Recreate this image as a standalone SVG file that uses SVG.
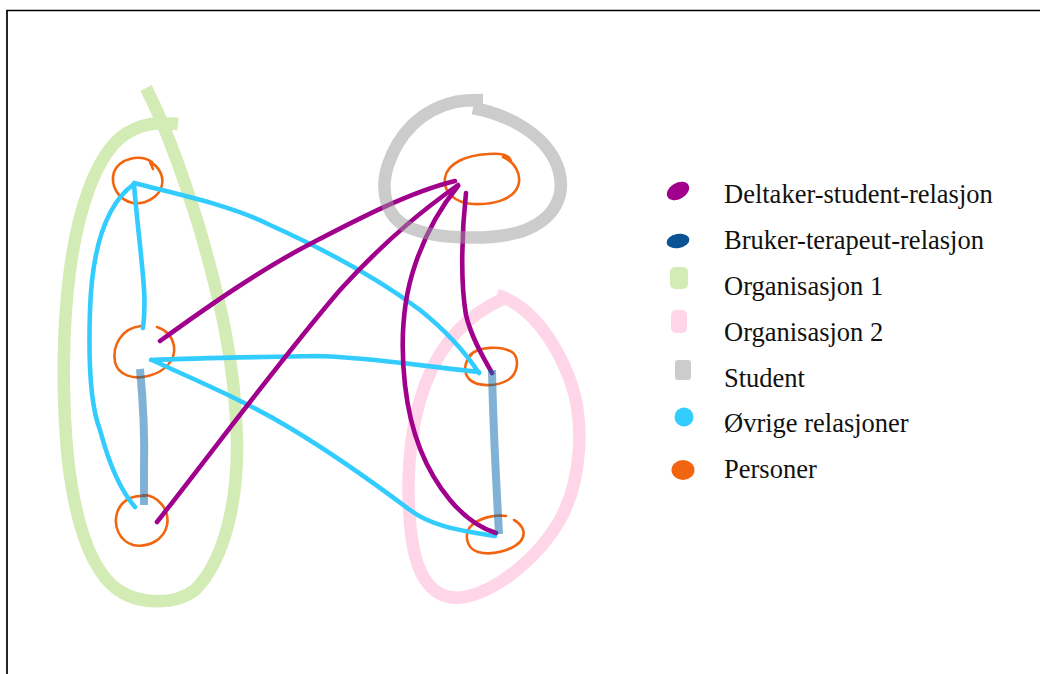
<svg xmlns="http://www.w3.org/2000/svg" width="1040" height="674" viewBox="0 0 1040 674">
<style>
.grp{fill:none;stroke-width:12.5;stroke-linecap:butt;stroke-linejoin:round}
.person{fill:none;stroke:#f26510;stroke-width:2.6;stroke-linecap:round}
.cyan{fill:none;stroke:#33ccff;stroke-width:4.6;stroke-linecap:round;stroke-linejoin:round}
.purple{fill:none;stroke:#a0008c;stroke-width:4.6;stroke-linecap:round}
.bt{fill:none;stroke:#0066aa;stroke-opacity:0.5;stroke-width:8;stroke-linecap:butt}
.lbl{font-family:"Liberation Serif","Times New Roman",serif;font-size:26.5px;fill:#111}
</style>
<rect width="1040" height="674" fill="#fff"/>
<path d="M7,674 V10.5 H1040" fill="none" stroke="#000" stroke-width="1.7"/>

<g id="org1"><path class="grp" stroke="#d3ebb4" d="M146,88 C160,115 180,165 200,230 C220,300 235,360 237,440 C238,500 225,560 195,590 C175,605 140,605 118,590 C90,570 75,520 68,460 C62,400 62,330 70,270 C78,210 95,160 120,138 C140,122 160,122 178,124"/></g>
<g id="org2"><path class="grp" stroke="#ffd6e8" d="M497,295 C530,305 555,340 570,380 C585,420 582,480 560,520 C540,555 500,590 465,597 C435,602 418,580 412,540 C405,490 408,430 425,385 C440,345 465,315 505,298"/></g>

<g id="p1"><path class="person" d="M152,162 C140,154 120,158 114,172 C110,185 118,200 133,203 C146,205 160,196 162,185 C164,175 158,166 150,162 L153,169"/></g>
<g id="p2"><path class="person" d="M157,327 C166,330 172,335 174,346 C176,360 165,372 148,376 C133,380 118,375 115,362 C112,345 122,328 141,326"/></g>
<g id="p3"><path class="person" d="M143,495 C158,495 170,510 167,525 C164,540 148,548 133,545 C120,541 113,527 117,513 C121,500 133,495 145,496"/></g>
<g id="p4"><path class="person" d="M503,157 C515,162 522,175 518,186 C513,200 492,205 473,204 C455,203 443,192 445,178 C447,163 467,155 488,154 C500,153 508,155 510,159 L505,158"/></g>
<g id="p5"><path class="person" d="M470,355 C478,347 500,345 512,352 C520,358 518,374 508,380 C496,387 477,387 469,379 C463,372 464,362 472,354"/></g>
<g id="p6"><path class="person" d="M506,516 C495,514 480,518 472,525 C464,532 465,548 478,552 C492,556 512,550 520,542 C527,534 523,525 514,520"/></g>

<g id="connectors">
<path class="cyan" d="M134,184 C105,205 92,250 90,310 C88,370 92,410 100,430 C108,460 120,490 135,507"/>
<path class="cyan" d="M134,184 C136,210 139,235 141,255 C144,285 146,305 143,328"/>
<path class="cyan" d="M134,183 C180,195 230,205 270,225 C330,252 380,280 420,310 C445,330 465,352 479,373"/>
<path class="cyan" d="M151,360 C200,358 260,357 315,356 C370,357 420,366 479,372"/>
<path class="cyan" d="M152,360 C190,378 240,398 290,428 C330,452 370,480 410,510 C430,525 455,530 495,536"/>
<path class="purple" d="M160,341 C210,305 260,270 310,244 C360,218 410,192 455,181"/>
<path class="purple" d="M157,522 C210,455 280,360 340,290 C390,235 430,205 458,185"/>
<path class="purple" d="M458,186 C440,208 425,235 415,265 C403,300 400,340 405,385 C410,430 425,470 450,500 C465,518 480,528 496,533"/>
<path class="purple" d="M466,193 C462,230 460,280 466,315 C472,340 485,360 492,373"/>
<path class="bt" d="M140,369 C143,400 145,430 144,470 L144,505"/>
<path class="bt" d="M492,370 C493,420 496,480 499,534"/>
</g>

<g id="student"><path class="grp" stroke="#999" stroke-opacity="0.5" d="M473,108 C510,115 545,135 557,165 C568,195 555,220 520,232 C490,240 440,240 410,228 C385,218 380,190 388,165 C398,135 420,110 455,102 C465,100 475,100 483,100"/></g>

<g id="legend">
<ellipse cx="678" cy="191" rx="12" ry="8" transform="rotate(-30 678 191)" fill="#a0008c"/>
<text class="lbl" x="724" y="203">Deltaker-student-relasjon</text>
<ellipse cx="678" cy="241" rx="11.5" ry="7" transform="rotate(-10 678 241)" fill="#0b5394"/>
<text class="lbl" x="724" y="249">Bruker-terapeut-relasjon</text>
<rect x="670" y="267" width="18" height="22" rx="5" fill="#d3ebb4"/>
<text class="lbl" x="724" y="295">Organisasjon 1</text>
<rect x="671" y="310" width="16" height="23" rx="5" fill="#ffd6e8"/>
<text class="lbl" x="724" y="341">Organisasjon 2</text>
<rect x="675" y="360" width="16" height="20" rx="3" fill="#cccccc"/>
<text class="lbl" x="724" y="387">Student</text>
<circle cx="684" cy="417" r="9.5" fill="#33ccff"/>
<text class="lbl" x="724" y="432">Øvrige relasjoner</text>
<ellipse cx="683" cy="470" rx="11.5" ry="10" fill="#f26510"/>
<text class="lbl" x="724" y="478">Personer</text>
</g>
</svg>
